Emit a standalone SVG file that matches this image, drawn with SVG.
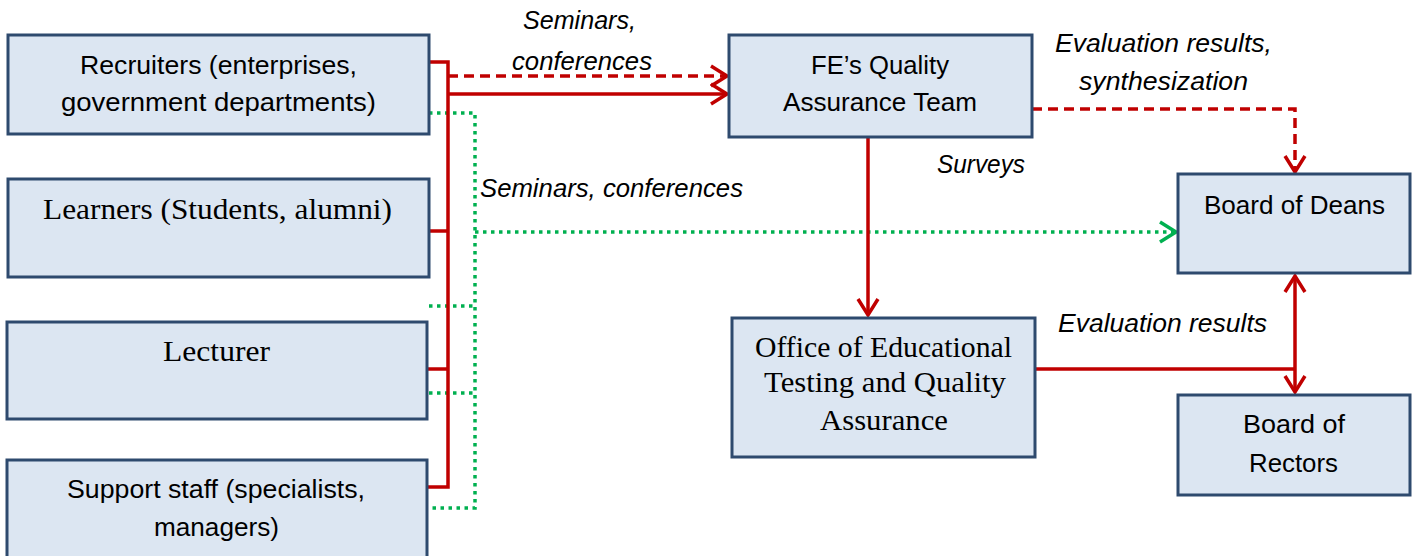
<svg xmlns="http://www.w3.org/2000/svg" width="1418" height="556" viewBox="0 0 1418 556">
<style>
.box{fill:#DCE6F2;stroke:#2E4A6E;stroke-width:3}
.sans{font-family:"Liberation Sans",Arial,sans-serif;font-size:25.5px;fill:#000}
.serif{font-family:"Liberation Serif","Times New Roman",serif;font-size:28.5px;fill:#000}
.lbl{font-family:"Liberation Sans",Arial,sans-serif;font-size:25px;font-style:italic;fill:#000}
.red{fill:none;stroke:#C00000;stroke-width:3.5}
.reddash{fill:none;stroke:#C00000;stroke-width:3.5;stroke-dasharray:10 6}
.green{fill:none;stroke:#00B050;stroke-width:3.5;stroke-dasharray:3.5 4.5}
</style>
<defs>
<marker id="arrRed" markerUnits="userSpaceOnUse" markerWidth="24" markerHeight="24" viewBox="0 0 24 24" refX="19" refY="12" orient="auto-start-reverse">
<path d="M3,2 L19,12 L3,22" fill="none" stroke="#C00000" stroke-width="3.5"/>
</marker>
<marker id="arrGreen" markerUnits="userSpaceOnUse" markerWidth="24" markerHeight="24" viewBox="0 0 24 24" refX="19" refY="12" orient="auto">
<path d="M3,2 L19,12 L3,22" fill="none" stroke="#00B050" stroke-width="3.5"/>
</marker>
</defs>

<g id="connectors">
<path class="green" d="M429,113 H475 V508 H427"/>
<path class="green" d="M429,306 H475"/>
<path class="green" d="M429,393 H475"/>
<path class="green" d="M475,232 H1176" marker-end="url(#arrGreen)"/>
<path class="red" d="M429,62 H448 V487 H427"/>
<path class="red" d="M429,231 H448"/>
<path class="red" d="M428,369 H448"/>
<path class="reddash" d="M448,76 H727" marker-end="url(#arrRed)"/>
<path class="red" d="M448,94 H727" marker-end="url(#arrRed)"/>
<path class="red" d="M868,137 V315" marker-end="url(#arrRed)"/>
<path class="reddash" d="M1032,109 H1295 V172" marker-end="url(#arrRed)"/>
<path class="red" d="M1295,276 V392" marker-start="url(#arrRed)" marker-end="url(#arrRed)"/>
<path class="red" d="M1035,369 H1295"/>
<text class="lbl" x="523" y="29" textLength="113" lengthAdjust="spacingAndGlyphs">Seminars,</text>
<text class="lbl" x="512" y="70" textLength="140" lengthAdjust="spacingAndGlyphs">conferences</text>
<text class="lbl" x="480" y="197" textLength="263" lengthAdjust="spacingAndGlyphs">Seminars, conferences</text>
<text class="lbl" x="937" y="173" textLength="88" lengthAdjust="spacingAndGlyphs">Surveys</text>
<text class="lbl" x="1055" y="52" textLength="217" lengthAdjust="spacingAndGlyphs">Evaluation results,</text>
<text class="lbl" x="1079" y="90" textLength="169" lengthAdjust="spacingAndGlyphs">synthesization</text>
<text class="lbl" x="1058" y="332" textLength="209" lengthAdjust="spacingAndGlyphs">Evaluation results</text>
</g>

<g id="recruiters">
<rect class="box" x="8" y="35" width="421" height="99"/>
<text class="sans" x="80" y="74" textLength="277" lengthAdjust="spacingAndGlyphs">Recruiters (enterprises,</text>
<text class="sans" x="61" y="111" textLength="315" lengthAdjust="spacingAndGlyphs">government departments)</text>
</g>
<g id="learners">
<rect class="box" x="8" y="179" width="421" height="98"/>
<text class="serif" x="43" y="219" textLength="349" lengthAdjust="spacingAndGlyphs">Learners (Students, alumni)</text>
</g>
<g id="lecturer">
<rect class="box" x="7" y="322" width="420" height="97"/>
<text class="serif" x="163" y="361" textLength="107" lengthAdjust="spacingAndGlyphs">Lecturer</text>
</g>
<g id="support">
<rect class="box" x="7" y="460" width="420" height="100"/>
<text class="sans" x="67" y="498" textLength="298" lengthAdjust="spacingAndGlyphs">Support staff (specialists,</text>
<text class="sans" x="154" y="536" textLength="125" lengthAdjust="spacingAndGlyphs">managers)</text>
</g>
<g id="qa-team">
<rect class="box" x="729" y="35" width="303" height="102"/>
<text class="sans" x="811" y="74" textLength="138" lengthAdjust="spacingAndGlyphs">FE’s Quality</text>
<text class="sans" x="783" y="111" textLength="194" lengthAdjust="spacingAndGlyphs">Assurance Team</text>
</g>
<g id="office">
<rect class="box" x="732" y="318" width="303" height="139"/>
<text class="serif" x="755" y="357" textLength="257" lengthAdjust="spacingAndGlyphs">Office of Educational</text>
<text class="serif" x="764" y="392" textLength="242" lengthAdjust="spacingAndGlyphs">Testing and Quality</text>
<text class="serif" x="820" y="430" textLength="128" lengthAdjust="spacingAndGlyphs">Assurance</text>
</g>
<g id="deans">
<rect class="box" x="1178" y="174" width="232" height="99"/>
<text class="sans" x="1204" y="214" textLength="181" lengthAdjust="spacingAndGlyphs">Board of Deans</text>
</g>
<g id="rectors">
<rect class="box" x="1178" y="395" width="232" height="100"/>
<text class="sans" x="1243" y="433" textLength="102" lengthAdjust="spacingAndGlyphs">Board of</text>
<text class="sans" x="1249" y="472" textLength="89" lengthAdjust="spacingAndGlyphs">Rectors</text>
</g>
</svg>
